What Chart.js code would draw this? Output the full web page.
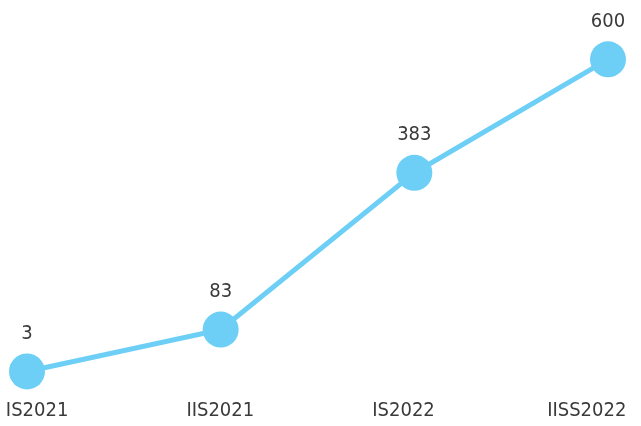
<!DOCTYPE html>
<html>
<head>
<meta charset="utf-8">
<script src="https://cdn.jsdelivr.net/npm/chart.js@4"></script>
<style>
  html, body { margin: 0; padding: 0; background: #fff; }
  #wrap { width: 641px; height: 426px; }
</style>
</head>
<body>
<div id="wrap"><canvas id="chart" width="641" height="426"></canvas></div>
<script>
const periods = ['IS2021', 'IIS2021', 'IS2022', 'IISS2022'];
const counts = [3, 83, 383, 600];

const lineColour = '#6dcff6';
const textColour = '#3a3a3a';
const fontFamily = "'Liberation Sans Narrow', 'DejaVu Sans Condensed', sans-serif";

// draws the value over each point
const valueLabels = {
    id: 'valueLabels',
    afterDatasetsDraw(chart) {
        const ctx = chart.ctx;
        const meta = chart.getDatasetMeta(0);
        ctx.save();
        ctx.fillStyle = textColour;
        ctx.font = '20px ' + fontFamily;
        ctx.textAlign = 'center';
        ctx.textBaseline = 'middle';
        meta.data.forEach((pt, i) => {
            ctx.fillText(String(counts[i]), pt.x, pt.y - 38);
        });
        ctx.restore();
    }
};

document.addEventListener("DOMContentLoaded", function () {
    const canvas = document.getElementById('chart');
    new Chart(canvas, {
        type: 'line',
        data: {
            datasets: [{
                data: counts.map((v, i) => ({ x: i, y: v })),
                borderColor: lineColour,
                backgroundColor: lineColour,
                borderWidth: 5,
                pointRadius: 18,
                pointHoverRadius: 18,
                pointBorderWidth: 0,
                tension: 0,
                clip: false,
                xAxisID: 'x'
            }]
        },
        options: {
            responsive: false,
            animation: false,
            layout: { padding: { left: 27, right: 33, top: 10, bottom: 4 } },
            plugins: { legend: { display: false }, tooltip: { enabled: false } },
            scales: {
                x: {
                    type: 'linear',
                    display: false,
                    min: 0,
                    max: 3
                },
                x2: {
                    type: 'linear',
                    position: 'bottom',
                    min: -0.055,
                    max: 3.116,
                    border: { display: false },
                    grid: { display: false, drawTicks: false },
                    afterFit: (scale) => {
                        scale.paddingLeft = 0;
                        scale.paddingRight = 0;
                        scale.height = 49;
                    },
                    ticks: {
                        stepSize: 1,
                        includeBounds: false,
                        autoSkip: false,
                        maxRotation: 0,
                        padding: 26,
                        color: textColour,
                        font: { family: fontFamily, size: 20 },
                        callback: (v) => periods[v] !== undefined && Number.isInteger(v) ? periods[v] : ''
                    }
                },
                y: {
                    display: false,
                    min: 0,
                    max: 679
                }
            }
        },
        plugins: [valueLabels]
    });
});
</script>
</body>
</html>
